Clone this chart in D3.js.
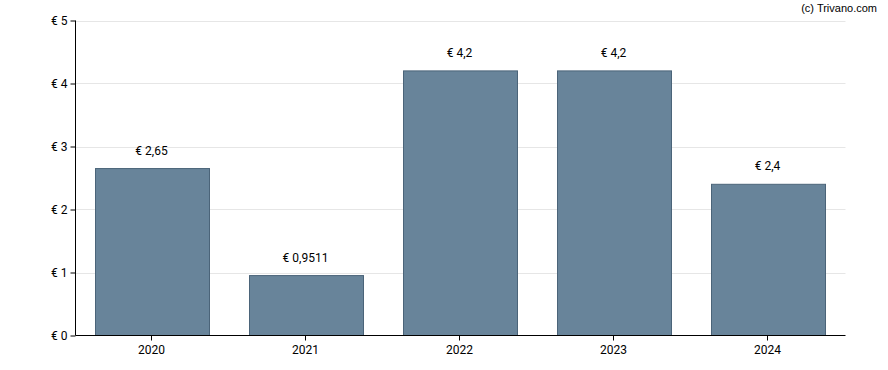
<!DOCTYPE html>
<html><head><meta charset="utf-8">
<script src="https://cdn.jsdelivr.net/npm/d3@7/dist/d3.min.js"></script>
<style>body{margin:0;background:#fff}svg{display:block}</style>
</head><body><svg id="c" width="888" height="370"></svg>
<script>
const years = ["2020","2021","2022","2023","2024"];
const values = [2.65, 0.9511, 4.2, 4.2, 2.4];
const labels = ["€ 2,65","€ 0,9511","€ 4,2","€ 4,2","€ 2,4"];
const yTicks = [0,1,2,3,4,5];
const yTickLabels = ["€ 0","€ 1","€ 2","€ 3","€ 4","€ 5"];

const svg = d3.select("#c");
const L = 75.5, R = 845.5, T = 20.5, B = 335.5;
const x = d3.scaleBand().domain(years).range([L, R]).paddingInner(0.26).paddingOuter(0.13);
const y = d3.scaleLinear().domain([0,5]).range([B, T]);
const font = "Roboto, 'Noto Sans', sans-serif";

svg.append("g").selectAll("line").data(yTicks.slice(1)).join("line")
  .attr("x1", L).attr("x2", R).attr("y1", d=>Math.round(y(d))+0.5).attr("y2", d=>Math.round(y(d))+0.5)
  .attr("stroke", "#e6e6e6").attr("stroke-width", 1);

svg.append("g").selectAll("rect").data(values).join("rect")
  .attr("x", (d,i)=>Math.round(x(years[i]))-0.5)
  .attr("width", Math.round(x.bandwidth()))
  .attr("y", d=>y(d))
  .attr("height", d=>B - y(d))
  .attr("fill", "#68849a").attr("stroke", "#4b6479").attr("stroke-width", 1);

svg.append("g").selectAll("text").data(values).join("text")
  .attr("x", (d,i)=>x(years[i]) + x.bandwidth()/2 - 1)
  .attr("y", d=>y(d) - 14)
  .attr("text-anchor", "middle")
  .attr("font-family", font).attr("font-size", 12).attr("fill", "#000")
  .text((d,i)=>labels[i]);

const yAxis = d3.axisLeft(y).tickValues(yTicks).tickFormat((d,i)=>yTickLabels[i]).tickSize(5).tickPadding(3);
const gy = svg.append("g").attr("transform", `translate(${L},0)`).call(yAxis);
gy.select(".domain").attr("stroke", "#000").attr("d", `M0,${T}V${B}`);
gy.selectAll("line").attr("stroke","#000");
gy.selectAll("text").attr("font-family", font).attr("font-size", 12).attr("fill","#000");

const xAxis = d3.axisBottom(x).tickSize(5).tickPadding(5);
const gx = svg.append("g").attr("transform", `translate(-1,${B})`).call(xAxis);
gx.select(".domain").attr("stroke","#000").attr("d", `M${L+1},0H${R+1}`);
gx.selectAll("line").attr("stroke","#000");
gx.selectAll("text").attr("font-family", font).attr("font-size", 12).attr("fill","#000");

svg.append("text").attr("x", 877).attr("y", 12).attr("text-anchor","end")
  .attr("font-family","'Liberation Sans', Arial, sans-serif").attr("font-size", 11).attr("fill","#000")
  .text("(c) Trivano.com");
</script></body></html>
